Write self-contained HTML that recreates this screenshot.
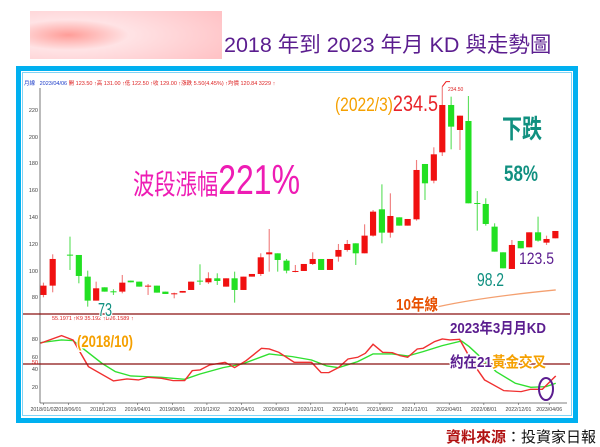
<!DOCTYPE html>
<html><head><meta charset="utf-8"><style>
html,body{margin:0;padding:0;background:#fff;}
svg{display:block}
text{font-family:"Liberation Sans","Noto Sans CJK TC",sans-serif;}
.o{paint-order:stroke;stroke:#fff;stroke-linejoin:round;}
</style></head><body>
<svg id="s" width="600" height="447" viewBox="0 0 600 447" xmlns="http://www.w3.org/2000/svg">
<defs>
<radialGradient id="bl" cx="0.2" cy="0.5" r="0.9"><stop offset="0" stop-color="#ff9d98"/><stop offset="0.35" stop-color="#ffe3e5"/><stop offset="1" stop-color="#ffc3c6"/></radialGradient>
</defs>
<rect x="30" y="11" width="192" height="48" fill="url(#bl)"/>
<text x="224" y="52" font-size="21.5" fill="#5b1d8f">2018 年到 2023 年月 KD 與走勢圖</text>
<rect x="16" y="66" width="562" height="357" fill="#00b0f0"/>
<rect x="21" y="71" width="552" height="347" fill="#fff"/>
<rect x="22.5" y="72.5" width="549" height="343" fill="none" stroke="#7fd4f6" stroke-width="1"/>
<text x="24" y="85" font-size="5.5" fill="#1a3ac8">月線 &#160; 2023/04/06 <tspan fill="#d22">開 123.50 ↑高 131.00 ↑低 122.50 ↑收 129.00 ↑漲跌 5.50(4.45%) ↑均價 120.84 3229 ↑</tspan></text>
<g id="sc" transform="scale(0.3846,0.3333)"></g>
<line x1="40" y1="88" x2="40" y2="403" stroke="#555" stroke-width="0.8"/>
<line x1="40" y1="403" x2="567" y2="403" stroke="#555" stroke-width="0.8"/>
<line x1="23" y1="314" x2="570" y2="314" stroke="#8b1010" stroke-width="1.2"/>
<line x1="23" y1="364" x2="570" y2="364" stroke="#8b1010" stroke-width="1.2"/>
<g font-size="5.5" fill="#444" text-anchor="end">
<text x="38" y="112">220</text><text x="38" y="139">200</text><text x="38" y="165">180</text><text x="38" y="192">160</text><text x="38" y="219">140</text><text x="38" y="246">120</text><text x="38" y="273">100</text><text x="38" y="299">80</text>
<text x="38" y="341">80</text><text x="38" y="359">60</text><text x="38" y="364" fill="#d22">50</text><text x="38" y="371">40</text><text x="38" y="389">20</text>
</g>
<g id="xl" font-size="5.2" fill="#444" text-anchor="middle"></g>
<text x="52" y="320" font-size="5.5" fill="#d22">55.1971 ↑K9 35.192 ↑D26.1589 ↑</text>
<text x="335" y="111" font-size="19" fill="#f5a000" class="o" stroke-width="3" textLength="103" lengthAdjust="spacingAndGlyphs">(2022/3)<tspan fill="#e8232a" font-size="22">234.5</tspan></text>
<text x="448" y="91" font-size="5" fill="#d22">234.50</text>
<text x="502" y="138" font-size="26" font-weight="bold" fill="#109080" class="o" stroke-width="3" textLength="40" lengthAdjust="spacingAndGlyphs">下跌</text>
<text x="504" y="181" font-size="22" font-weight="bold" fill="#109080" class="o" stroke-width="3" textLength="34" lengthAdjust="spacingAndGlyphs">58%</text>
<text x="133" y="194" font-size="28" fill="#ee1cb4" class="o" stroke-width="3" textLength="167" lengthAdjust="spacingAndGlyphs">波段漲幅<tspan font-size="42">221%</tspan></text>
<text x="477" y="286" font-size="18" fill="#109080" class="o" stroke-width="3" textLength="27" lengthAdjust="spacingAndGlyphs">98.2</text>
<text x="519" y="264" font-size="17" fill="#5b1d8f" class="o" stroke-width="3" textLength="35" lengthAdjust="spacingAndGlyphs">123.5</text>
<text x="396" y="310" font-size="16" font-weight="bold" fill="#e85000" class="o" stroke-width="3" textLength="42" lengthAdjust="spacingAndGlyphs">10年線</text>
<text x="98" y="316" font-size="18" fill="#109080" class="o" stroke-width="3" textLength="14" lengthAdjust="spacingAndGlyphs">73</text>
<text x="77" y="347" font-size="17" font-weight="bold" fill="#f5a000" class="o" stroke-width="3" textLength="56" lengthAdjust="spacingAndGlyphs">(2018/10)</text>
<text x="450" y="333" font-size="15" font-weight="bold" fill="#5b1d8f" class="o" stroke-width="3" textLength="96" lengthAdjust="spacingAndGlyphs">2023年3月月KD</text>
<text x="450" y="367" font-size="15" font-weight="bold" fill="#5b1d8f" class="o" stroke-width="3" textLength="96" lengthAdjust="spacingAndGlyphs">約在21<tspan fill="#f5a000">黃金交叉</tspan></text>
<ellipse cx="546" cy="389" rx="7" ry="11" fill="none" stroke="#5b1d8f" stroke-width="2"/>
<text x="446" y="442" font-size="15" fill="#111" textLength="150" lengthAdjust="spacingAndGlyphs"><tspan fill="#b01010" font-weight="bold">資料來源</tspan>：投資家日報</text>
</svg>
<script>
var NS="http://www.w3.org/2000/svg",g=document.getElementById("sc");
var C=[[113,677,705,668,712,1],[137,597,677,583,697,1],[182,584,586,530,630,0],[205,585,648,585,670,0],[228,650,722,632,740,0],[250,685,722,665,722,1],[272,682,695,682,695,0],[295,694,696,688,705,0],[318,668,695,645,700,1],[340,662,667,662,667,0],[362,665,680,665,680,0],[385,677,680,672,705,1],[408,677,698,677,698,0],[430,695,702,695,702,0],[453,700,703,698,715,1],[475,693,698,693,698,1],[497,665,690,665,690,1],[520,662,664,613,675,0],[542,655,667,637,672,1],[565,655,663,640,675,0],[588,655,680,655,680,1],[610,655,690,635,728,0],[633,650,690,650,690,1],[655,642,650,642,650,1],[678,592,642,580,648,1],[700,577,583,507,635,1],[722,580,600,580,635,0],[745,602,632,597,640,0],[768,633,635,615,637,1],[790,612,633,612,633,1],[813,597,612,577,615,1],[835,597,630,597,630,0],[858,597,630,597,630,1],[880,570,590,552,605,1],[903,552,570,540,575,1],[925,550,580,550,615,0],[948,527,580,493,580,1],[970,455,527,450,530,1],[993,448,518,373,550,0],[1015,468,518,400,533,1],[1038,472,497,472,497,0],[1060,477,497,477,497,1],[1083,330,478,300,482,1],[1105,312,370,312,420,0],[1128,283,362,262,370,1],[1150,135,277,80,288,1],[1173,135,200,110,268,0],[1196,167,210,167,270,1],[1218,183,430,108,430,0],[1241,429,431,393,512,0],[1263,432,492,415,497,0],[1286,500,575,490,575,0],[1308,577,625,577,625,0],[1331,555,627,540,627,1],[1354,543,565,543,565,0],[1376,517,562,517,562,1],[1399,517,542,470,545,0],[1421,537,548,527,555,1],[1444,513,535,513,535,1]];
function e2(p,t,a){var e=document.createElementNS(NS,t);for(var k in a)e.setAttribute(k,a[k]);p.appendChild(e);return e;}
var tg=e2(g,"g",{transform:"translate(0,180)"});
C.forEach(function(c){var col=c[5]?"#f01010":"#22e022";var wc=c[5]?"#f08080":"#60e060";
e2(tg,"line",{x1:c[0],x2:c[0],y1:c[3],y2:c[4],stroke:wc,"stroke-width":3});
e2(tg,"rect",{x:c[0]-8,y:c[1],width:16,height:Math.max(3,c[2]-c[1]),fill:col});});
e2(tg,"path",{d:"M1140 740 Q1250 712 1445 690",fill:"none",stroke:"#f4a070","stroke-width":4});
e2(tg,"path",{d:"M1150 80 L1160 65 L1170 65",fill:"none",stroke:"#e22","stroke-width":3});
var kg=e2(g,"g",{transform:"translate(0,900)"});
var K=[[105,130],[160,107],[190,120],[230,200],[295,243],[330,237],[360,240],[385,232],[420,235],[450,242],[480,242],[500,212],[520,210],[545,195],[585,187],[610,203],[640,182],[680,145],[700,147],[725,157],[765,187],[810,187],[835,218],[855,218],[880,203],[905,177],[930,172],[950,160],[970,133],[995,157],[1020,158],[1040,167],[1060,172],[1085,147],[1100,145],[1130,125],[1150,117],[1170,120],[1195,118],[1230,190],[1260,240],[1310,272],[1355,275],[1380,268],[1410,268],[1445,228]];
var D=[[105,128],[160,120],[190,122],[215,145],[265,190],[300,215],[340,228],[380,230],[420,232],[480,238],[520,222],[580,203],[630,192],[700,162],[760,170],[810,180],[850,198],[880,203],[930,185],[970,162],[1020,162],[1060,168],[1100,155],[1150,137],[1200,123],[1220,140],[1290,215],[1340,250],[1380,262],[1420,260],[1445,250]];
e2(kg,"polyline",{points:D.join(" "),fill:"none",stroke:"#30e030","stroke-width":4});
e2(kg,"polyline",{points:K.join(" "),fill:"none",stroke:"#f03030","stroke-width":4});
var L=["2018/01/02","2018/06/01","2018/12/03","2019/04/01","2019/08/01","2019/12/02","2020/04/01","2020/08/03","2020/12/01","2021/04/01","2021/08/02","2021/12/01","2022/04/01","2022/08/01","2022/12/01","2023/04/06"];
var X=[113,178,268,358,448,538,628,718,808,898,988,1078,1168,1258,1348,1428];
var xl=document.getElementById("xl");
L.forEach(function(t,i){var e=e2(xl,"text",{x:X[i]/2.6,y:411});e.textContent=t;
e2(xl,"line",{x1:X[i]/2.6,x2:X[i]/2.6,y1:403,y2:405,stroke:"#555","stroke-width":0.6});});
</script>
</body></html>
